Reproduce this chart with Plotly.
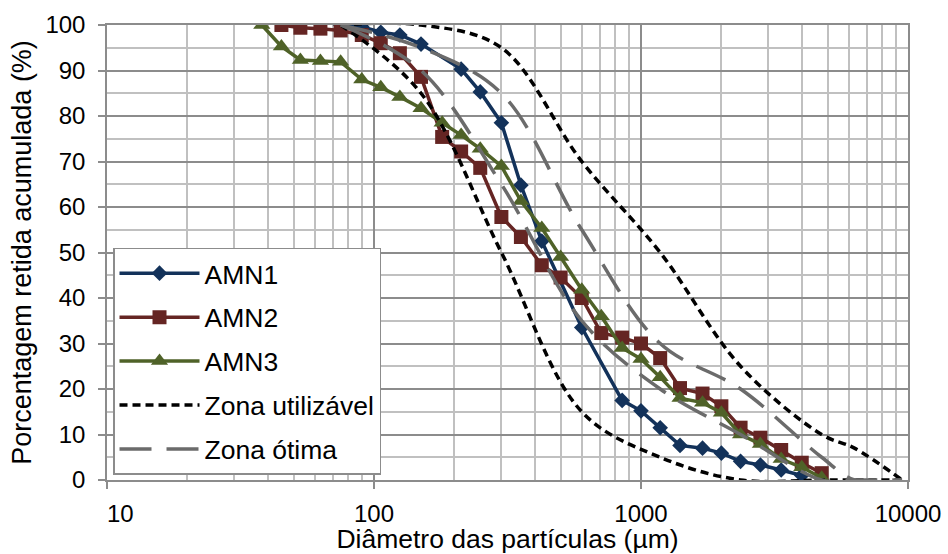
import plotly.graph_objects as go

# Sieve openings (µm) and cumulative retained percentage for each sample
amn1_d = [75, 90, 106, 125, 150, 212, 250, 300, 355, 425, 600, 850, 1000,
          1180, 1400, 1700, 2000, 2360, 2800, 3350, 4000]
amn1_p = [100, 99.6, 98.4, 97.8, 95.8, 90.3, 85.3, 78.5, 64.8, 52.5, 33.5,
          17.5, 15.2, 11.5, 7.6, 7.0, 5.9, 4.1, 3.3, 2.2, 1.0]

amn2_d = [45, 53, 63, 75, 90, 106, 125, 150, 180, 212, 250, 300, 355, 425,
          500, 600, 710, 850, 1000, 1180, 1400, 1700, 2000, 2360, 2800,
          3350, 4000, 4750]
amn2_p = [100, 99.4, 99.2, 98.8, 97.8, 96.0, 93.8, 88.6, 75.4, 72.2, 68.6,
          57.8, 53.4, 47.2, 44.5, 40.0, 32.3, 31.3, 30.0, 26.8, 20.2, 19.0,
          16.2, 11.5, 9.3, 6.6, 3.8, 1.5]

amn3_d = [38, 45, 53, 63, 75, 90, 106, 125, 150, 180, 212, 250, 300, 355,
          425, 500, 600, 710, 850, 1000, 1180, 1400, 1700, 2000, 2360, 2800,
          3350, 4000, 4750]
amn3_p = [100, 95.3, 92.3, 92.1, 91.9, 88.0, 86.3, 84.2, 81.7, 78.5, 75.8,
          72.8, 69.0, 61.3, 55.4, 49.0, 41.8, 36.0, 29.0, 26.6, 22.6, 18.0,
          17.0, 14.8, 10.0, 7.9, 4.6, 2.8, 0.5]

# Grading limits (NBR 7211) on the same sieve scale
zone_d = [75, 150, 300, 600, 1180, 2360, 4750, 6300, 9500]
util_inf = [100, 85, 50, 15, 5, 0, 0, 0, 0]
util_sup = [100, 100, 95, 70, 50, 25, 10, 7, 0]
otima_inf = [100, 90, 65, 35, 20, 10, 0, 0, 0]
otima_sup = [100, 95, 85, 55, 30, 20, 5, 0, 0]

x_ticks = [10, 100, 1000, 10000]
# the first label is padded so it clears the value axis
x_ticktext = ["\u2007\u200710", "100", "1000", "10000"]

FONT = "Liberation Sans, Arial, sans-serif"

fig = go.Figure()

series = [
    ("AMN1", amn1_d, amn1_p, "#13325a", "diamond", 12),
    ("AMN2", amn2_d, amn2_p, "#652523", "square", 14),
    ("AMN3", amn3_d, amn3_p, "#4f6228", "triangle-up", 15),
]
for name, d, p, color, symbol, size in series:
    fig.add_trace(go.Scatter(
        x=d, y=p, name=name, mode="lines+markers", legendgroup=name,
        line=dict(color=color, width=3.5),
        marker=dict(symbol=symbol, size=size, color=color,
                    line=dict(width=0)),
    ))

zones = [
    ("Zona utilizável", util_inf, util_sup, "#000000", "8px,5px", 3.5),
    ("Zona ótima", otima_inf, otima_sup, "#6b6b6b", "32px,15px", 3.5),
]
for name, low, high, color, dash, width in zones:
    for k, vals in enumerate((low, high)):
        fig.add_trace(go.Scatter(
            x=zone_d, y=vals, name=name, mode="lines", legendgroup=name,
            showlegend=(k == 0),
            line=dict(color=color, width=width, dash=dash,
                      shape="spline", smoothing=1.0),
        ))

major = "#8c8c8c"
minor = "#c0c0c0"

fig.update_layout(
    width=948, height=554,
    margin=dict(l=107, r=40, t=25, b=74),
    paper_bgcolor="white", plot_bgcolor="white",
    font=dict(family=FONT, size=24, color="#000000"),
    showlegend=True,
    legend=dict(
        x=0.0075, y=0.51, xanchor="left", yanchor="top",
        bgcolor="white", bordercolor=major, borderwidth=1.5,
        font=dict(family=FONT, size=26.5, color="#000000"),
        itemwidth=80, tracegroupgap=6.5, traceorder="grouped",
    ),
    xaxis=dict(
        type="log", range=[1, 4], automargin=False,
        tickvals=x_ticks, ticktext=x_ticktext,
        showgrid=True, gridcolor=major, gridwidth=1.5,
        minor=dict(showgrid=True, gridcolor=minor, gridwidth=1.5,
                   dtick="D1", ticks=""),
        ticks="outside", ticklen=7, tickcolor=major, tickwidth=1.5,
        ticklabelstandoff=4,
        showline=True, linecolor=major, linewidth=1.5, mirror=True,
        zeroline=False,
        tickfont=dict(family=FONT, size=24),
        title=dict(text="Diâmetro das partículas (µm)",
                   font=dict(family=FONT, size=26.5), standoff=10),
    ),
    yaxis=dict(
        range=[0, 100], dtick=10, automargin=False,
        showgrid=True, gridcolor=major, gridwidth=1.5,
        minor=dict(showgrid=True, gridcolor=minor, gridwidth=1.5, dtick=5,
                   ticks=""),
        ticks="outside", ticklen=7, tickcolor=major, tickwidth=1.5,
        ticklabelstandoff=8,
        showline=True, linecolor=major, linewidth=1.5, mirror=True,
        zeroline=False,
        tickfont=dict(family=FONT, size=24),
        title=dict(text="Porcentagem retida acumulada (%)",
                   font=dict(family=FONT, size=27), standoff=6),
    ),
)

fig.write_html("out.html")
